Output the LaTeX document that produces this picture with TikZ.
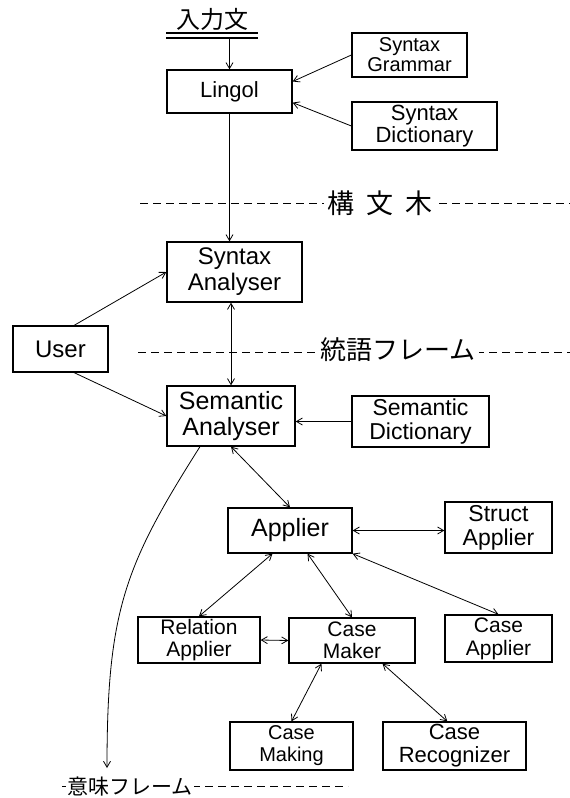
\documentclass[tikz,border=0pt]{standalone}
\usepackage{fontspec}
\setmainfont{Liberation Sans}
\newfontfamily\jpfont{Noto Sans CJK JP}
\usetikzlibrary{arrows.meta, calc}

\begin{document}
\begin{tikzpicture}[x=1pt, y=-1pt, >={Straight Barb[length=6pt, width=7pt]},
  box/.style={draw, line width=1.3pt, inner sep=2pt, align=center},
  fs/.style 2 args={font=\fontsize{#1}{#2}\selectfont},
  link/.style={line width=0.8pt},
  frame/.style={line width=0.8pt, dash pattern=on 8pt off 5pt},
  tag/.style={fill=white, inner sep=3pt},
  ]
  \useasboundingbox (0,0) rectangle (570,798);

  % Input sentence
  \node[font=\jpfont\fontsize{24}{24}\selectfont, anchor=south, minimum width=91pt, inner sep=1pt] (input) at (212,32) {入力文};
  \draw[line width=1.2pt] ($(input.south west)+(0,1)$) -- ($(input.south east)+(0,1)$);
  \draw[line width=1.2pt] ($(input.south west)+(0,6)$) -- ($(input.south east)+(0,6)$);

  % Parser part
  \node[box, fs={22}{24}, minimum width=125pt, minimum height=43pt] (lingol) at (229.5,91.5) {Lingol};
  \node[box, fs={20}{20}, minimum width=115pt, minimum height=44pt] (sgram) at (409.5,55) {Syntax\\ Grammar};
  \node[box, fs={22}{22}, minimum width=145pt, minimum height=48pt] (sdict) at (424.5,126) {Syntax\\ Dictionary};
  \node[box, fs={24}{26}, minimum width=135pt, minimum height=60pt] (synana) at (234.5,272) {Syntax\\ Analyser};
  \node[box, fs={24}{24}, minimum width=95pt, minimum height=46pt] (user) at (60.5,349) {User};
  \node[box, fs={25}{26}, minimum width=128pt, minimum height=60pt] (semana) at (231,416) {Semantic\\ Analyser};
  \node[box, fs={23}{24}, minimum width=137pt, minimum height=51pt] (semdict) at (420.5,421.5) {Semantic\\ Dictionary};

  % Applier part
  \node[box, fs={25}{25}, minimum width=124pt, minimum height=45pt] (applier) at (290,530.5) {Applier};
  \node[box, fs={23}{24}, minimum width=107pt, minimum height=51pt] (struct) at (498.5,527.5) {Struct\\ Applier};
  \node[box, fs={21}{22}, minimum width=122pt, minimum height=46pt] (relapp) at (199,640) {Relation\\ Applier};
  \node[box, fs={21}{22}, minimum width=126pt, minimum height=45pt] (casemaker) at (352,640.5) {Case\\ Maker};
  \node[box, fs={21}{23}, minimum width=107pt, minimum height=47pt] (caseapp) at (498.5,638.5) {Case\\ Applier};
  \node[box, fs={20}{22}, minimum width=123pt, minimum height=48pt] (casemaking) at (291.5,746) {Case\\ Making};
  \node[box, fs={22}{23}, minimum width=143pt, minimum height=48pt] (caserec) at (454.5,746) {Case\\ Recognizer};

  % Level lines
  \draw[frame] (140,203) -- (570,203);
  \node[tag, font=\jpfont\fontsize{27}{27}\selectfont] (kobun) at (380,203) {構\hspace{0.45em}文\hspace{0.45em}木};
  \draw[frame] (138,352) -- (570,352);
  \node[tag, font=\jpfont\fontsize{26}{26}\selectfont] (togo) at (398,350) {統語フレーム};
  \draw[frame] (62,786) -- (348,786);
  \node[tag, inner sep=1pt, font=\jpfont\fontsize{21}{21}\selectfont] (imi) at (130,786) {意味フレーム};
  \coordinate (imiend) at (107,768);

  % Arrows
  \draw[link, ->] ($(input.south -| lingol.north)+(0,7)$) -- (lingol.north);
  \draw[link, ->] (sgram.west) -- (lingol.9);
  \draw[link, ->] (sdict.west) -- (lingol.-10);
  \draw[link, ->] (lingol.south) -- (lingol.south |- synana.north);
  \draw[link, ->] (user.60) -- (synana.west);
  \draw[link, ->] (user.-60) -- (semana.west);
  \draw[link, <->] (semana.north |- synana.south) -- (semana.north);
  \draw[link, ->] (semdict.west) -- (semana.east |- semdict.west);
  \draw[link, ->] ($(semana.south west)!0.26!(semana.south east)$) .. controls (125,565) and (107,610) .. (imiend);
  \draw[link, <->] (semana.south) -- (applier.north);
  \draw[link, <->] (applier.east) -- (struct.west |- applier.east);
  \draw[link, <->] ($(applier.south west)!0.36!(applier.south east)$) -- (relapp.north);
  \draw[link, <->] ($(applier.south west)!0.64!(applier.south east)$) -- (casemaker.north);
  \draw[link, <->] (applier.south east) -- (caseapp.north);
  \draw[link, <->] (relapp.east) -- (casemaker.west);
  \draw[link, <->] ($(casemaker.south west)!0.26!(casemaker.south east)$) -- (casemaking.north);
  \draw[link, <->] ($(casemaker.south west)!0.74!(casemaker.south east)$) -- ($(caserec.north west)!0.45!(caserec.north east)$);
\end{tikzpicture}
\end{document}
